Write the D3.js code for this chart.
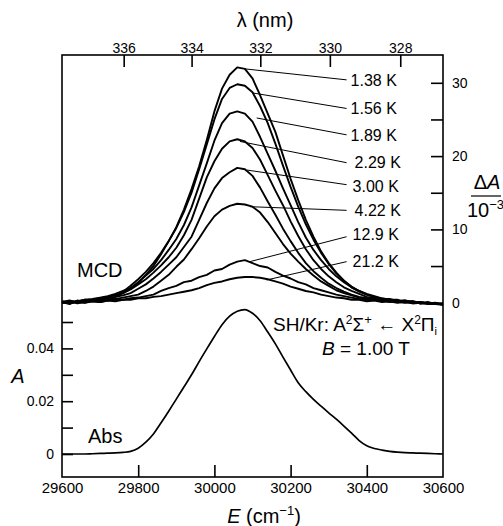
<!DOCTYPE html>
<html>
<head>
<meta charset="utf-8">
<script src="https://cdn.jsdelivr.net/npm/d3@7"></script>
<style>
  body { margin: 0; background: #fff; }
  text { font-family: "Liberation Sans", Arial, Helvetica, sans-serif; fill: #000; }
</style>
</head>
<body>
<script>
// energy grid (cm-1)
var energy = [29600,29620,29640,29660,29680,29700,29720,29740,29760,29780,29800,
  29820,29840,29860,29880,29900,29920,29940,29960,29980,30000,
  30020,30040,30060,30080,30100,30120,30140,30160,30180,30200,
  30220,30240,30260,30280,30300,30320,30340,30360,30380,30400,
  30420,30440,30460,30480,30500,30520,30540,30560,30580,30600];

// MCD, dA / 10^-3
var mcd138 = [0.1,-0.2,0.3,0.0,0.3,0.2,0.5,0.8,1.3,1.9,2.7, 3.8,5.0,6.6,8.4,10.3,12.7,15.5,18.6,22.2,26.1,
  29.2,31.1,32.1,31.9,30.6,28.3,25.8,23.3,20.1,16.9, 14.0,11.3,9.0,7.0,5.4,4.1,3.0,2.1,1.5,1.1, 0.8,0.5,0.4,0.2,0.3,0.0,0.1,-0.1,-0.2,-0.3];
var mcd156 = [0.2,0.0,0.2,0.4,0.3,0.6,0.8,1.1,1.5,2.3,3.2, 4.2,5.4,6.8,8.4,10.2,12.4,15.0,18.2,21.6,25.0,
  27.8,29.3,29.8,29.6,28.7,26.8,24.5,21.7,18.7,15.8, 13.1,10.7,8.6,6.8,5.3,4.0,3.0,2.2,1.6,1.1, 0.8,0.5,0.5,0.2,0.3,0.1,-0.1,0.1,-0.2,-0.2];
var mcd189 = [0.0,0.2,0.1,0.4,0.5,0.7,0.9,1.2,1.6,2.0,2.8, 3.7,4.6,5.8,7.2,8.7,10.6,13.0,16.0,19.0,22.1,
  24.5,25.8,26.1,25.8,24.7,22.6,20.3,18.0,15.6,13.3, 11.0,8.9,7.2,5.8,4.6,3.6,2.8,2.1,1.6,1.2, 0.9,0.6,0.4,0.4,0.1,0.2,-0.1,0.0,-0.2,-0.1];
var mcd229 = [0.1,0.3,0.0,0.3,0.4,0.6,0.8,1.0,1.3,1.8,2.5, 3.2,4.1,5.1,6.2,7.5,9.2,11.3,14.2,17.1,19.3,
  21.0,22.0,22.3,22.0,21.1,19.5,17.4,15.3,13.3,11.1, 9.1,7.3,5.8,4.6,3.6,2.8,2.1,1.6,1.2,0.8, 0.6,0.5,0.3,0.3,0.1,0.2,0.0,-0.1,0.0,-0.3];
var mcd300 = [0.0,0.2,0.1,0.2,0.4,0.4,0.6,0.8,1.0,1.3,1.9, 2.5,3.3,4.2,5.2,6.2,7.6,9.0,11.3,13.6,15.6,
  17.0,17.8,18.4,18.2,17.3,15.7,13.8,12.0,10.1,8.4, 6.8,5.4,4.3,3.4,2.6,2.0,1.5,1.1,0.8,0.6, 0.5,0.3,0.4,0.1,0.2,0.0,0.1,-0.1,-0.1,-0.2];
var mcd422 = [0.1,-0.1,0.2,0.1,0.3,0.3,0.5,0.5,0.7,0.9,1.1, 1.6,2.2,3.0,3.8,4.9,5.9,7.3,8.8,10.4,11.8,
  12.7,13.2,13.5,13.4,13.1,12.3,11.0,9.5,8.0,6.7, 5.6,4.6,3.7,2.9,2.3,1.7,1.3,1.0,0.7,0.5, 0.4,0.3,0.1,0.2,0.0,0.1,-0.1,0.0,-0.2,-0.2];
var mcd129 = [0.0,0.2,-0.1,0.1,0.2,0.1,0.3,0.4,0.4,0.6,0.7, 0.9,1.1,1.6,2.0,2.3,2.8,3.0,3.5,3.8,4.4,
  4.6,5.2,5.6,5.8,5.4,5.0,4.8,4.2,3.7,3.3, 2.8,2.5,2.0,1.7,1.4,1.1,0.9,0.7,0.5,0.4, 0.4,0.2,0.3,0.1,0.2,0.0,0.1,-0.1,-0.1,-0.2];
var mcd212 = [0.1,-0.1,0.1,0.0,0.2,0.1,0.3,0.2,0.4,0.4,0.6, 0.6,0.8,0.9,1.1,1.3,1.5,1.7,2.0,2.4,2.7,
  2.9,3.2,3.4,3.5,3.5,3.4,3.2,2.9,2.6,2.2, 1.9,1.6,1.4,1.1,0.9,0.7,0.6,0.4,0.4,0.2, 0.3,0.1,0.2,0.0,0.1,-0.1,0.0,-0.2,-0.1,-0.3];

// absorbance
var absA = [0,0,0,0,0.0001,0.0002,0.0003,0.0004,0.0006,0.0010,0.0022,
  0.0045,0.0076,0.0118,0.0162,0.0208,0.0254,0.0300,0.0350,0.0398,0.0445,
  0.0490,0.0522,0.0541,0.0547,0.0533,0.0505,0.0462,0.0417,0.0367,0.0318,
  0.0270,0.0236,0.0207,0.0181,0.0156,0.0132,0.0106,0.0079,0.0051,0.0031,
  0.0021,0.0015,0.0010,0.0007,0.0005,0.0004,0.0003,0.0002,0.0001,0.0];

// temperature labels and their leader lines (data units)
var tempLabels = ["1.38 K","1.56 K","1.89 K","2.29 K","3.00 K","4.22 K","12.9 K","21.2 K"];
var leaderE   = [30080, 30102, 30111, 30067, 30085, 30093, 30093, 30137];
var leaderDA  = [31.9, 28.6, 25.2, 22.0, 18.1, 13.1, 5.6, 3.1];
var labelE    = 30347;
var labelDA   = [30.4, 26.5, 22.9, 19.1, 16.1, 12.6, 9.0, 5.6];
var labelTextDA = [30.4, 26.5, 22.9, 19.1, 15.9, 12.6, 9.3, 5.7];
var labelShift = [4, 4, 4, 8, 6, 8, 6, 6];

// ticks
var eTicks = [29600, 29800, 30000, 30200, 30400, 30600];
var nmTicks = [336, 334, 332, 330, 328];
var daTicks = [0, 5, 10, 15, 20, 25, 30];
var daLabels = [0, 10, 20, 30];
var aTicks = [0, 0.01, 0.02, 0.03, 0.04, 0.05];
var aLabels = [0, 0.02, 0.04];

var W = 503, H = 526;
var L = 62, R = 443, T = 55, B = 477;

var svg = d3.select("body").append("svg")
  .attr("width", W)
  .attr("height", H);

var x = d3.scaleLinear().domain([29600, 30600]).range([L, R]);
var yD = d3.scaleLinear().domain([0, 30]).range([302.7, 82.8]);
var yA = d3.scaleLinear().domain([0, 0.05]).range([454, 322]);

// frame
svg.append("rect")
  .attr("x", L).attr("y", T)
  .attr("width", R - L).attr("height", B - T)
  .attr("fill", "none")
  .attr("stroke", "#000")
  .attr("stroke-width", 1.6);

function styleAxis(g, size) {
  g.select(".domain").remove();
  g.selectAll(".tick line").attr("stroke", "#000").attr("stroke-width", 1.6);
  g.selectAll(".tick text").attr("font-size", size).attr("font-family", null);
}

// bottom axis: E
var axB = svg.append("g")
  .attr("transform", "translate(0," + B + ")")
  .call(d3.axisBottom(x).tickValues(eTicks).tickSizeInner(-12).tickSizeOuter(0).tickPadding(5)
    .tickFormat(d3.format("d")));
styleAxis(axB, 15);
axB.selectAll(".tick").filter(function(d){ return d == 29600 || d == 30600; }).select("line").remove();

// top axis: wavelength
var axT = svg.append("g")
  .attr("transform", "translate(0," + T + ")")
  .call(d3.axisTop(x).tickValues(nmTicks.map(function(l){ return 1e7 / l; }))
    .tickSizeInner(-12).tickSizeOuter(0).tickPadding(2)
    .tickFormat(function(e){ return Math.round(1e7 / e); }));
styleAxis(axT, 14);

// right axis: MCD
var axR = svg.append("g")
  .attr("transform", "translate(" + R + ",0)")
  .call(d3.axisRight(yD).tickValues(daTicks).tickSizeInner(-12).tickSizeOuter(0).tickPadding(9)
    .tickFormat(function(d){ return daLabels.indexOf(d) >= 0 ? d : ""; }));
styleAxis(axR, 14);

// left axis: A
var axL = svg.append("g")
  .attr("transform", "translate(" + L + ",0)")
  .call(d3.axisLeft(yA).tickValues(aTicks).tickSizeInner(-11).tickSizeOuter(0).tickPadding(8)
    .tickFormat(function(d){ return aLabels.indexOf(d) >= 0 ? (d === 0 ? "0" : d3.format(".2f")(d)) : ""; }));
styleAxis(axL, 14);

// MCD curves
var series = [mcd212, mcd129, mcd422, mcd300, mcd229, mcd189, mcd156, mcd138];
var lineD = d3.line()
  .x(function(d, i){ return x(energy[i]); })
  .y(function(d){ return yD(d); });

svg.append("g").selectAll("path")
  .data(series)
  .enter().append("path")
  .attr("d", lineD)
  .attr("fill", "none")
  .attr("stroke", "#000")
  .attr("stroke-width", 1.9)
  .attr("stroke-linejoin", "round");

// absorption curve
var lineA = d3.line()
  .x(function(d, i){ return x(energy[i]); })
  .y(function(d){ return yA(d); })
  .curve(d3.curveMonotoneX);

svg.append("path")
  .attr("d", lineA(absA))
  .attr("fill", "none")
  .attr("stroke", "#000")
  .attr("stroke-width", 1.7);

// leader lines + temperature labels
var lab = svg.append("g").selectAll("g")
  .data(tempLabels)
  .enter().append("g");

lab.append("line")
  .attr("x1", function(d, i){ return x(leaderE[i]); })
  .attr("y1", function(d, i){ return yD(leaderDA[i]); })
  .attr("x2", x(labelE))
  .attr("y2", function(d, i){ return yD(labelDA[i]); })
  .attr("stroke", "#000")
  .attr("stroke-width", 1);

lab.append("text")
  .attr("x", function(d, i){ return x(labelE) + labelShift[i]; })
  .attr("y", function(d, i){ return yD(labelTextDA[i]); })
  .attr("dy", "0.36em")
  .attr("font-size", 16)
  .text(function(d){ return d; });

// panel labels
svg.append("text").attr("x", 77).attr("y", 277).attr("font-size", 20).text("MCD");
svg.append("text").attr("x", 88).attr("y", 443).attr("font-size", 20).text("Abs");

var title = svg.append("text").attr("x", 273).attr("y", 331).attr("font-size", 19);
title.append("tspan").text("SH/Kr: A");
title.append("tspan").attr("font-size", 12).attr("dy", -7).text("2");
title.append("tspan").attr("dy", 7).text("\u03A3");
title.append("tspan").attr("font-size", 13).attr("dy", -7).text("+");
title.append("tspan").attr("dy", 7).text(" \u2190 X");
title.append("tspan").attr("font-size", 12).attr("dy", -7).text("2");
title.append("tspan").attr("dy", 7).text("\u03A0");
title.append("tspan").attr("font-size", 11).attr("dy", 4).text("i");

var bt = svg.append("text").attr("x", 322).attr("y", 355).attr("font-size", 19);
bt.append("tspan").attr("font-style", "italic").text("B");
bt.append("tspan").text(" = 1.00 T");

// axis titles
svg.append("text").attr("x", 265).attr("y", 27).attr("text-anchor", "middle")
  .attr("font-size", 20).text("\u03BB (nm)");

var et = svg.append("text").attr("x", 264).attr("y", 523).attr("text-anchor", "middle").attr("font-size", 20);
et.append("tspan").attr("font-style", "italic").text("E");
et.append("tspan").text(" (cm");
et.append("tspan").attr("font-size", 13).attr("dy", -8).text("\u22121");
et.append("tspan").attr("dy", 8).text(")");

svg.append("text").attr("x", 18).attr("y", 383).attr("text-anchor", "middle")
  .attr("font-size", 20).attr("font-style", "italic").text("A");

var da = svg.append("text").attr("x", 487).attr("y", 189).attr("text-anchor", "middle").attr("font-size", 20);
da.append("tspan").text("\u0394");
da.append("tspan").attr("font-style", "italic").text("A");
svg.append("line").attr("x1", 471).attr("x2", 501).attr("y1", 196).attr("y2", 196)
  .attr("stroke", "#000").attr("stroke-width", 1.2);
var dd = svg.append("text").attr("x", 467).attr("y", 217).attr("font-size", 20);
dd.append("tspan").text("10");
dd.append("tspan").attr("font-size", 13).attr("dy", -8).text("\u22123");
</script>
</body>
</html>
